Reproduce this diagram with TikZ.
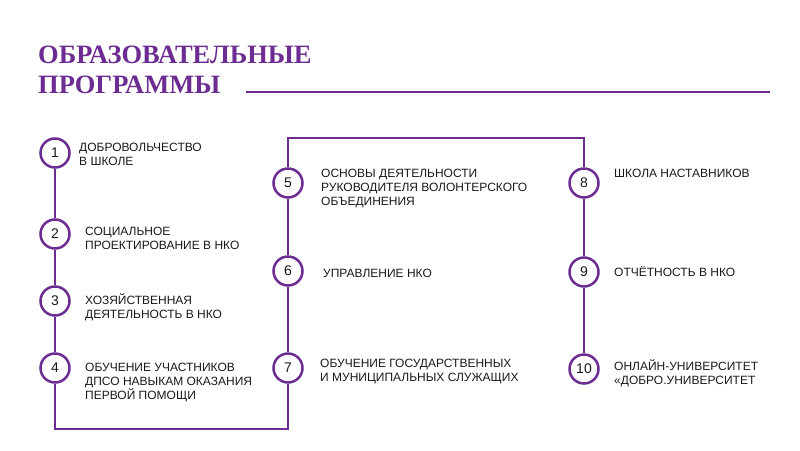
\documentclass[tikz,border=0pt]{standalone}
\usepackage{fontspec}
\setmainfont{Liberation Sans}
\newfontfamily\titlefont{Liberation Serif}
\definecolor{progpurple}{RGB}{108,44,145}
\definecolor{progtext}{RGB}{25,25,25}

\begin{document}
\begin{tikzpicture}
  [x=1pt, y=-1pt]
  \tikzstyle{num_circle} = [circle, draw=progpurple, line width=2.5pt, fill=white,
                            minimum size=29pt, inner sep=0pt, text=progtext,
                            font=\fontsize{14}{14}\selectfont];
  \tikzstyle{item_text}  = [anchor=north west, inner sep=0pt, align=left, text=progtext,
                            font=\fontsize{12}{14}\selectfont];
  \tikzstyle{link}       = [draw=progpurple, line width=1.6pt];

  \useasboundingbox (0,0) rectangle (800,450);

  % title
  \node[anchor=base west, inner sep=0pt, align=left, text=progpurple,
        font=\titlefont\bfseries\fontsize{26.5}{30}\selectfont] (title) at (38,93)
    {ОБРАЗОВАТЕЛЬНЫЕ\\ПРОГРАММЫ};
  \coordinate (rule_l) at (246,92);
  \coordinate (rule_r) at (770,92);
  \draw[draw=progpurple, line width=1.6pt] (rule_l) -- (rule_r);

  % corner points of the path
  \coordinate (bot_l) at (55,429);
  \coordinate (bot_r) at (288,429);
  \coordinate (top_l) at (288,138);
  \coordinate (top_r) at (584,138);

  % circles
  \node[num_circle] (c1)  at (55, 153) {1};
  \node[num_circle] (c2)  at (55, 234) {2};
  \node[num_circle] (c3)  at (55, 301) {3};
  \node[num_circle] (c4)  at (55, 368) {4};

  \node[num_circle] (c5)  at (288, 183) {5};
  \node[num_circle] (c6)  at (288, 271) {6};
  \node[num_circle] (c7)  at (288, 368) {7};

  \node[num_circle] (c8)  at (584, 183) {8};
  \node[num_circle] (c9)  at (584, 272) {9};
  \node[num_circle] (c10) at (584, 369) {10};

  % connectors
  \draw[link] (c1) -- (c2);
  \draw[link] (c2) -- (c3);
  \draw[link] (c3) -- (c4);
  \draw[link] (c4) -- (bot_l) -- (bot_r) -- (c7);
  \draw[link] (c7) -- (c6);
  \draw[link] (c6) -- (c5);
  \draw[link] (c5) -- (top_l) -- (top_r) -- (c8);
  \draw[link] (c8) -- (c9);
  \draw[link] (c9) -- (c10);

  % texts
  \node[item_text] (t1)  at (79, 141.2)  {\strut ДОБРОВОЛЬЧЕСТВО\\В ШКОЛЕ};
  \node[item_text] (t2)  at (85, 225.2)  {\strut СОЦИАЛЬНОЕ\\ПРОЕКТИРОВАНИЕ В НКО};
  \node[item_text] (t3)  at (85, 293.2)  {\strut ХОЗЯЙСТВЕННАЯ\\ДЕЯТЕЛЬНОСТЬ В НКО};
  \node[item_text] (t4)  at (85, 361.2)  {\strut ОБУЧЕНИЕ УЧАСТНИКОВ\\ДПСО НАВЫКАМ ОКАЗАНИЯ\\ПЕРВОЙ ПОМОЩИ};

  \node[item_text] (t5)  at (321, 167.2) {\strut ОСНОВЫ ДЕЯТЕЛЬНОСТИ\\РУКОВОДИТЕЛЯ ВОЛОНТЕРСКОГО\\ОБЪЕДИНЕНИЯ};
  \node[item_text] (t6)  at (323, 267.2) {\strut УПРАВЛЕНИЕ НКО};
  \node[item_text] (t7)  at (320, 357.2) {\strut ОБУЧЕНИЕ ГОСУДАРСТВЕННЫХ\\И МУНИЦИПАЛЬНЫХ СЛУЖАЩИХ};

  \node[item_text] (t8)  at (614, 167.2) {\strut ШКОЛА НАСТАВНИКОВ};
  \node[item_text] (t9)  at (614, 266.2) {\strut ОТЧЁТНОСТЬ В НКО};
  \node[item_text] (t10) at (614, 359.2) {\strut ОНЛАЙН-УНИВЕРСИТЕТ\\«ДОБРО.УНИВЕРСИТЕТ};

\end{tikzpicture}
\end{document}
